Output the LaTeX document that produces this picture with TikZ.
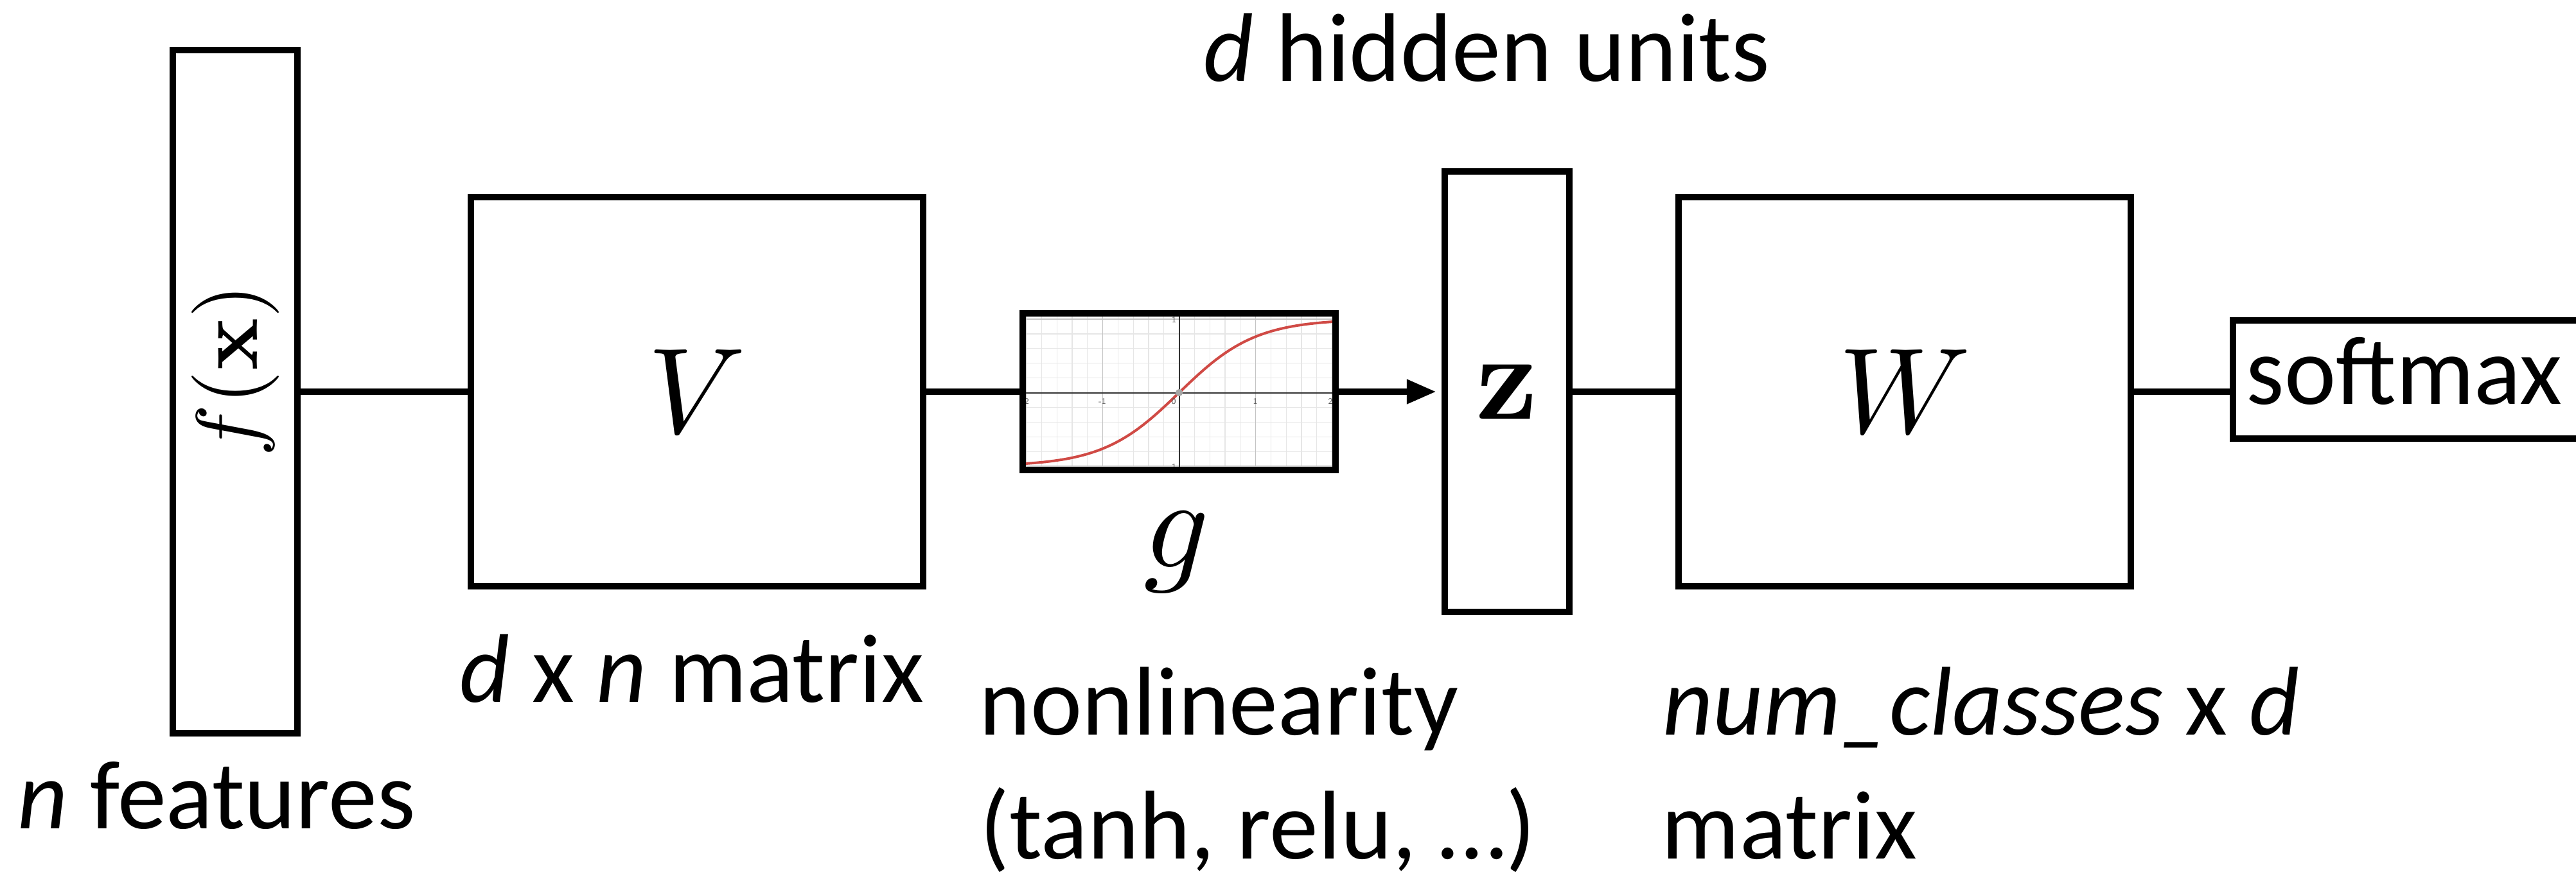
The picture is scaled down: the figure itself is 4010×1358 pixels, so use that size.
\documentclass[tikz,border=0pt]{standalone}
\usepackage[no-math]{fontspec}
\setmainfont{Carlito}
\usetikzlibrary{arrows.meta}
\definecolor{curvered}{HTML}{D04A45}
\definecolor{gridminor}{HTML}{E6E6E6}
\definecolor{gridmajor}{HTML}{C4C4C4}
\definecolor{axisgray}{HTML}{333333}
\tikzset{
  box/.style={draw, line width=2.6pt, inner sep=0pt, fill=white},
  plainbox/.style={draw, line width=2.6pt, inner sep=0pt},
  conn/.style={line width=2.6pt},
  lbl/.style={font=\fontsize{38}{46}\selectfont, inner sep=0pt, anchor=base west},
  tick/.style={font=\fontsize{3.3}{4}\sffamily, text=black!65, inner sep=0pt},
  tip/.style={-{Triangle[length=11.5pt,width=9pt]}, shorten >=2pt},
}
\begin{document}
\begin{tikzpicture}[x=0.25pt,y=-0.25pt]
\clip (0,0) rectangle (4010,1358);
\fill[white] (0,0) rectangle (4010,1358);

% input vector
\node[box, minimum width=48.5pt, minimum height=266pt] (f) at (366,610) {};
\node[rotate=90, inner sep=0pt] (fx) at (366,577) {\scalebox{3.4}{$f(\mathbf{x})$}};

% V matrix
\node[box, minimum width=176pt, minimum height=151.5pt] (V) at (1085,610) {\scalebox{4.75}{$V$}};

% nonlinearity graph
\begin{scope}
  \clip (1592,493) rectangle (2079,727);
  \foreach \i in {-10,...,10} {
    \draw[gridminor, line width=0.3pt] ({1835.5+23.8*\i},480) -- ({1835.5+23.8*\i},740);
  }
  \foreach \j in {-6,...,6} {
    \draw[gridminor, line width=0.3pt] (1580,{611.5+22.9*\j}) -- (2090,{611.5+22.9*\j});
  }
  \foreach \i in {-10,-5,5,10} {
    \draw[gridmajor, line width=0.35pt] ({1835.5+23.8*\i},480) -- ({1835.5+23.8*\i},740);
  }
  \foreach \j in {-5,5} {
    \draw[gridmajor, line width=0.35pt] (1580,{611.5+22.9*\j}) -- (2090,{611.5+22.9*\j});
  }
  \draw[axisgray, line width=0.5pt] (1580,611.5) -- (2090,611.5);
  \draw[axisgray, line width=0.5pt] (1835.5,480) -- (1835.5,740);
  \draw[curvered, line width=1pt] plot[domain=-2.1:2.1, samples=90, smooth]
    ({1835.5+119*\x},{611.5-114.5*tanh(\x)});
  \fill[black!35] (1835.5,611.5) circle[radius=1.4pt];
  \node[tick, anchor=east] (ty1) at (1832,498) {1};
  \node[tick, anchor=east] (tym) at (1832,727) {-1};
  \node[tick] (txm2) at (1596,625) {-2};
  \node[tick] (txm1) at (1716,625) {-1};
  \node[tick] (tx0) at (1827,625) {0};
  \node[tick] (tx1) at (1954,625) {1};
  \node[tick] (tx2) at (2071,625) {2};
\end{scope}
\node[plainbox, minimum width=121.75pt, minimum height=61pt] (g) at (1835.5,610) {};
\node[inner sep=0pt, anchor=base] (glbl) at (1832,883) {\scalebox{5}{$g$}};

% hidden vector
\node[box, minimum width=48.5pt, minimum height=171.5pt] (z) at (2346,610) {\scalebox{4.75}{$\mathbf{z}$}};

% W matrix
\node[box, minimum width=176pt, minimum height=151.5pt] (W) at (2965,610) {\scalebox{4.75}{$W$}};

% softmax
\node[box, anchor=north west, minimum width=139.75pt, minimum height=46pt] (sm) at (3471,494) {};
\node[lbl] (smt) at (3496,629) {softmax};

% connectors
\draw[conn] (f.east) -- (V.west);
\draw[conn] (V.east) -- (g.west);
\draw[conn, tip] (g.east) -- (z.west);
\draw[conn] (z.east) -- (W.west);
\draw[conn] (W.east) -- (W.east -| sm.west);

% labels
\node[lbl] (hid) at (1873,127) {\textit{d} hidden units};
\node[lbl] (vlbl) at (715,1093) {\textit{d} x \textit{n} matrix};
\node[lbl] (nfeat) at (27,1290) {\textit{n} features};
\node[lbl] (nl1) at (1524,1144) {nonlinearity};
\node[lbl] (nl2) at (1525,1337) {(tanh, relu, …)};
\node[lbl] (wl1) at (2588,1144) {\textit{num\_classes} x \textit{d}};
\node[lbl] (wl2) at (2586,1337) {matrix};
\end{tikzpicture}
\end{document}
